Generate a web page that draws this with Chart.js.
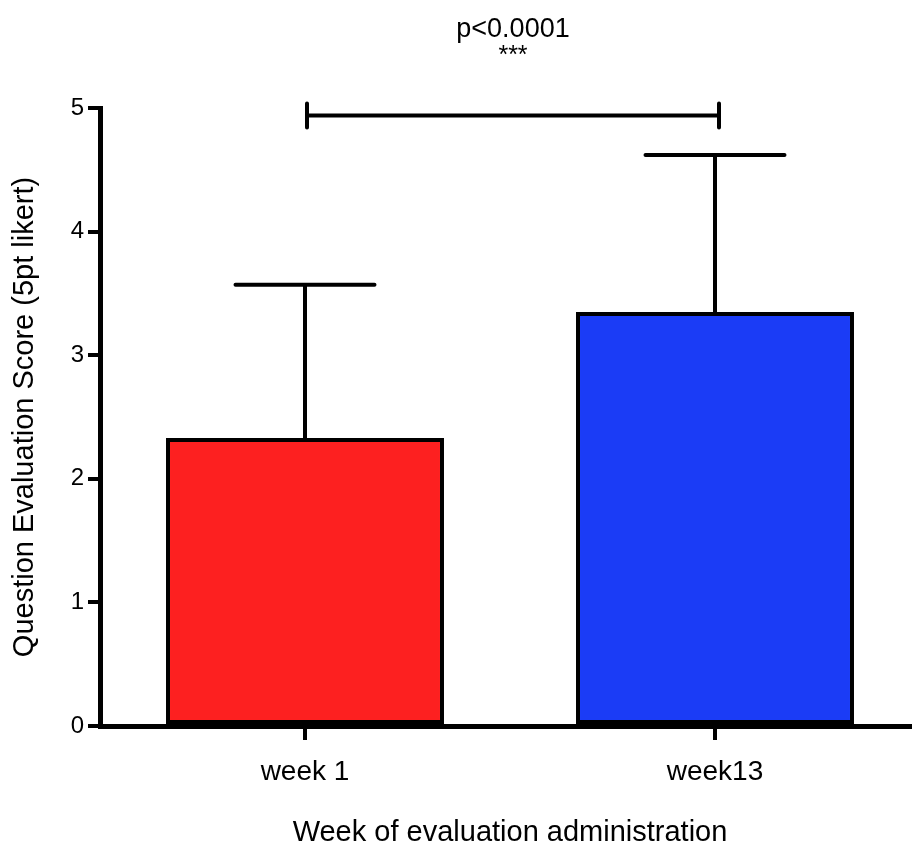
<!DOCTYPE html>
<html>
<head>
<meta charset="utf-8">
<script src="https://cdn.jsdelivr.net/npm/chart.js@4/dist/chart.umd.min.js"></script>
<style>
  html, body { margin: 0; padding: 0; background: #fff; overflow: hidden; }
  #wrap { width: 920px; height: 858px; }
</style>
</head>
<body>
<div id="wrap"><canvas id="chart" width="920" height="858"></canvas></div>
<script>
// data
const labels = ["week 1", "week13"];
const means = [2.33, 3.35];
const sds = [1.24, 1.27];            // upper whisker only
const barColors = ["#fd2020", "#1b3cf6"];
const yMin = 0, yMax = 5;
const sigLevel = 4.94;               // height of the comparison bracket
const sigText = "p<0.0001";
const sigStars = "***";

const FONT = "'Liberation Sans', Arial, Helvetica, sans-serif";

// upward SD whiskers
const errorBars = {
  id: "errorBars",
  afterDatasetsDraw(chart) {
    const ctx = chart.ctx;
    const y = chart.scales.y;
    const meta = chart.getDatasetMeta(0);
    ctx.save();
    ctx.strokeStyle = "#000";
    ctx.lineWidth = 4;
    ctx.lineCap = "round";
    meta.data.forEach((bar, i) => {
      const top = y.getPixelForValue(means[i] + sds[i]);
      const half = bar.width / 4;
      ctx.beginPath();
      ctx.moveTo(bar.x, bar.y);
      ctx.lineTo(bar.x, top);
      ctx.moveTo(bar.x - half, top);
      ctx.lineTo(bar.x + half, top);
      ctx.stroke();
    });
    ctx.restore();
  },
};

// significance bracket + p value text
const sigBracket = {
  id: "sigBracket",
  afterDraw(chart) {
    const ctx = chart.ctx;
    const meta = chart.getDatasetMeta(0);
    const x0 = meta.data[0].x + 2, x1 = meta.data[1].x + 4;
    const yy = chart.scales.y.getPixelForValue(sigLevel);
    ctx.save();
    ctx.strokeStyle = "#000";
    ctx.lineWidth = 4;
    ctx.lineCap = "round";
    ctx.beginPath();
    ctx.moveTo(x0, yy); ctx.lineTo(x1, yy);
    ctx.moveTo(x0, yy - 12); ctx.lineTo(x0, yy + 12);
    ctx.moveTo(x1, yy - 12); ctx.lineTo(x1, yy + 12);
    ctx.stroke();
    const cx = (x0 + x1) / 2;
    ctx.fillStyle = "#000";
    ctx.textAlign = "center";
    ctx.textBaseline = "middle";
    ctx.font = `27px ${FONT}`;
    ctx.fillText(sigText, cx, chart.chartArea.top - 78);
    ctx.font = `25px ${FONT}`;
    ctx.fillText(sigStars, cx, chart.chartArea.top - 52);
    ctx.restore();
  },
};

new Chart(document.getElementById("chart"), {
  type: "bar",
  data: {
    labels,
    datasets: [{
      data: means,
      backgroundColor: barColors,
      borderColor: "#000",
      borderWidth: 4,
      borderSkipped: false,
      categoryPercentage: 1,
      barPercentage: 0.678,
    }],
  },
  options: {
    responsive: false,
    animation: false,
    devicePixelRatio: 1,
    layout: { padding: { top: 108, left: 0, right: 0, bottom: 0 } },
    plugins: { legend: { display: false }, tooltip: { enabled: false } },
    scales: {
      x: {
        offset: true,
        grid: { offset: false, drawOnChartArea: false, drawTicks: true, tickLength: 14, color: "#000", lineWidth: 4 },
        border: { display: true, color: "#000", width: 5 },
        ticks: { color: "#000", font: { family: FONT, size: 28 }, padding: 15 },
        title: { display: true, text: "Week of evaluation administration", color: "#000",
                 font: { family: FONT, size: 29 }, padding: { top: 0, bottom: 8 } },
        afterFit: (s) => { s.height = 132; },
      },
      y: {
        min: yMin, max: yMax,
        grid: { drawOnChartArea: false, drawTicks: true, tickLength: 12, color: "#000", lineWidth: 4 },
        border: { display: true, color: "#000", width: 5 },
        ticks: { stepSize: 1, color: "#000", font: { family: FONT, size: 24 }, padding: 4 },
        title: { display: true, text: "Question Evaluation Score (5pt likert)", color: "#000",
                 font: { family: FONT, size: 29 }, padding: { top: 8, bottom: 0 } },
        afterFit: (s) => { s.width = 100; },
      },
    },
  },
  plugins: [errorBars, sigBracket],
});
</script>
</body>
</html>
